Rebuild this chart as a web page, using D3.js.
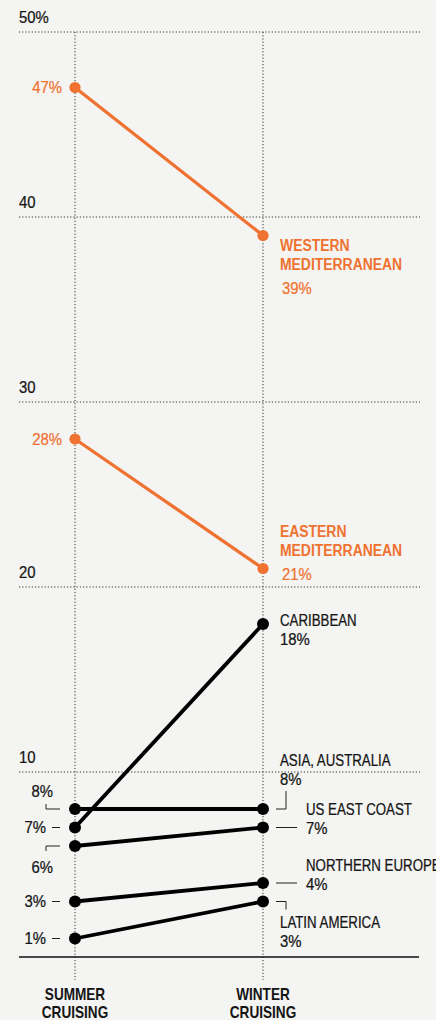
<!DOCTYPE html>
<html>
<head>
<meta charset="utf-8">
<script src="https://cdn.jsdelivr.net/npm/d3@7"></script>
<style>
  body { margin: 0; background: #f4f4f2; }
  svg { display: block; font-family: "Liberation Sans", Arial, sans-serif; }
</style>
</head>
<body>
<div id="chart"></div>
<script>
// data
var seasons = ["SUMMER", "WINTER"];
var regions = ["WESTERN MEDITERRANEAN", "EASTERN MEDITERRANEAN", "CARIBBEAN", "ASIA, AUSTRALIA", "US EAST COAST", "NORTHERN EUROPE", "LATIN AMERICA"];
var summer = [47, 28, 7, 8, 6, 3, 1];
var winter = [39, 21, 18, 8, 7, 4, 3];
var highlight = [true, true, false, false, false, false, false];
var yTicks = [50, 40, 30, 20, 10];

var width = 436, height = 1020;
var orange = "#ef7230";
var ink = "#151515";

var svg = d3.select("#chart").append("svg")
    .attr("width", width)
    .attr("height", height);

var x = d3.scalePoint().domain(seasons).range([75, 263]);
var y = d3.scaleLinear().domain([0, 50]).range([957, 32]);

// condensed-looking text: squeeze horizontally
function txt(tx, ty, str, o) {
    o = o || {};
    return svg.append("text")
        .attr("transform", "translate(" + tx + "," + ty + ") scale(" + (o.sx || 0.83) + ",1)")
        .attr("text-anchor", o.anchor || "start")
        .attr("dominant-baseline", o.central ? "central" : "auto")
        .style("font-size", (o.size || 16) + "px")
        .style("font-weight", o.bold ? "bold" : "normal")
        .style("fill", o.color || ink)
        .style("stroke", o.bold ? "none" : (o.color || ink))
        .style("stroke-width", 0.25)
        .text(str);
}
var NUM = 0.93;

// gridlines
svg.selectAll(".grid")
    .data(yTicks)
    .enter()
    .append("line")
    .attr("x1", 19).attr("x2", 420)
    .attr("y1", d => y(d)).attr("y2", d => y(d))
    .attr("stroke", "#333")
    .attr("stroke-width", 1)
    .attr("stroke-dasharray", "1.2,2");

yTicks.forEach(function (d) {
    txt(19, y(d) - 9, d == 50 ? d + "%" : d, { sx: NUM });
});

// vertical guides
svg.selectAll(".vline")
    .data(seasons)
    .enter()
    .append("line")
    .attr("x1", d => x(d)).attr("x2", d => x(d))
    .attr("y1", y(50)).attr("y2", 980)
    .attr("stroke", "#333")
    .attr("stroke-width", 1)
    .attr("stroke-dasharray", "1.2,2");

// baseline
svg.append("line")
    .attr("x1", 19).attr("x2", 419)
    .attr("y1", y(0)).attr("y2", y(0))
    .attr("stroke", "#111")
    .attr("stroke-width", 1.3);

// slope lines
var rows = regions.map((r, i) => ({ name: r, s: summer[i], w: winter[i], hi: highlight[i] }));
// caribbean drawn after the flat ones so it crosses on top
var order = [3, 4, 5, 6, 2, 1, 0].map(i => rows[i]);

var g = svg.selectAll(".slope")
    .data(order)
    .enter()
    .append("g");

g.append("line")
    .attr("x1", x("SUMMER")).attr("x2", x("WINTER"))
    .attr("y1", d => y(d.s)).attr("y2", d => y(d.w))
    .attr("stroke", d => d.hi ? orange : "#000")
    .attr("stroke-width", d => d.hi ? 3.3 : 3.8);

g.append("circle")
    .attr("cx", x("SUMMER")).attr("cy", d => y(d.s))
    .attr("r", d => d.hi ? 5.6 : 6)
    .attr("fill", d => d.hi ? orange : "#000");

g.append("circle")
    .attr("cx", x("WINTER")).attr("cy", d => y(d.w))
    .attr("r", d => d.hi ? 5.6 : 6)
    .attr("fill", d => d.hi ? orange : "#000");

// left labels
var lx = x("SUMMER");
txt(lx - 13, y(summer[0]), summer[0] + "%", { sx: NUM, anchor: "end", central: true, color: orange });
txt(lx - 13, y(summer[1]), summer[1] + "%", { sx: NUM, anchor: "end", central: true, color: orange });
txt(lx - 22, y(summer[3]) - 18, summer[3] + "%", { sx: NUM, anchor: "end", central: true });
txt(lx - 29, y(summer[2]), summer[2] + "%", { sx: NUM, anchor: "end", central: true });
txt(lx - 22, y(summer[4]) + 21, summer[4] + "%", { sx: NUM, anchor: "end", central: true });
txt(lx - 29, y(summer[5]), summer[5] + "%", { sx: NUM, anchor: "end", central: true });
txt(lx - 29, y(summer[6]), summer[6] + "%", { sx: NUM, anchor: "end", central: true });

function path(pts) {
    svg.append("path")
        .attr("d", d3.line()(pts))
        .attr("fill", "none")
        .attr("stroke", "#222")
        .attr("stroke-width", 1);
}
// left connectors
path([[lx - 29, y(summer[3]) - 5], [lx - 29, y(summer[3])], [lx - 15, y(summer[3])]]);
path([[lx - 23, y(summer[2])], [lx - 15, y(summer[2])]]);
path([[lx - 29, y(summer[4]) + 5], [lx - 29, y(summer[4])], [lx - 15, y(summer[4])]]);
path([[lx - 23, y(summer[5])], [lx - 15, y(summer[5])]]);
path([[lx - 23, y(summer[6])], [lx - 15, y(summer[6])]]);

// right labels
var rx = x("WINTER");
function rightLabel(lines, pct, tx, ty, color, bold) {
    lines.forEach(function (l, i) {
        txt(tx, ty + i * 19, l, { color: color, bold: bold, central: true, sx: bold ? 0.87 : 0.83 });
    });
    txt(tx + (bold ? 2 : 0), ty + (lines.length - 1) * 19 + (bold ? 24 : 18.5), pct + "%",
        { color: color, central: true, sx: NUM });
}
rightLabel(["WESTERN", "MEDITERRANEAN"], winter[0], rx + 17, y(winter[0]) + 10, orange, true);
rightLabel(["EASTERN", "MEDITERRANEAN"], winter[1], rx + 17, y(winter[1]) - 37, orange, true);
rightLabel(["CARIBBEAN"], winter[2], rx + 17, y(winter[2]) - 3, ink, false);
rightLabel(["ASIA, AUSTRALIA"], winter[3], rx + 17, y(winter[3]) - 48.5, ink, false);
rightLabel(["US EAST COAST"], winter[4], rx + 43, y(winter[4]) - 17.5, ink, false);
rightLabel(["NORTHERN EUROPE"], winter[5], rx + 43, y(winter[5]) - 17.5, ink, false);
rightLabel(["LATIN AMERICA"], winter[6], rx + 17, y(winter[6]) + 21, ink, false);

// right connectors
path([[rx + 13, y(winter[3])], [rx + 23, y(winter[3])], [rx + 23, y(winter[3]) - 18]]);
path([[rx + 13, y(winter[4])], [rx + 34, y(winter[4])]]);
path([[rx + 13, y(winter[5])], [rx + 34, y(winter[5])]]);
path([[rx + 13, y(winter[6])], [rx + 23, y(winter[6])], [rx + 23, y(winter[6]) + 8]]);

// axis labels
seasons.forEach(function (s) {
    txt(x(s), 995, s, { anchor: "middle", bold: true, central: true, sx: 0.85 });
    txt(x(s), 1013, "CRUISING", { anchor: "middle", bold: true, central: true, sx: 0.85 });
});
</script>
</body>
</html>
